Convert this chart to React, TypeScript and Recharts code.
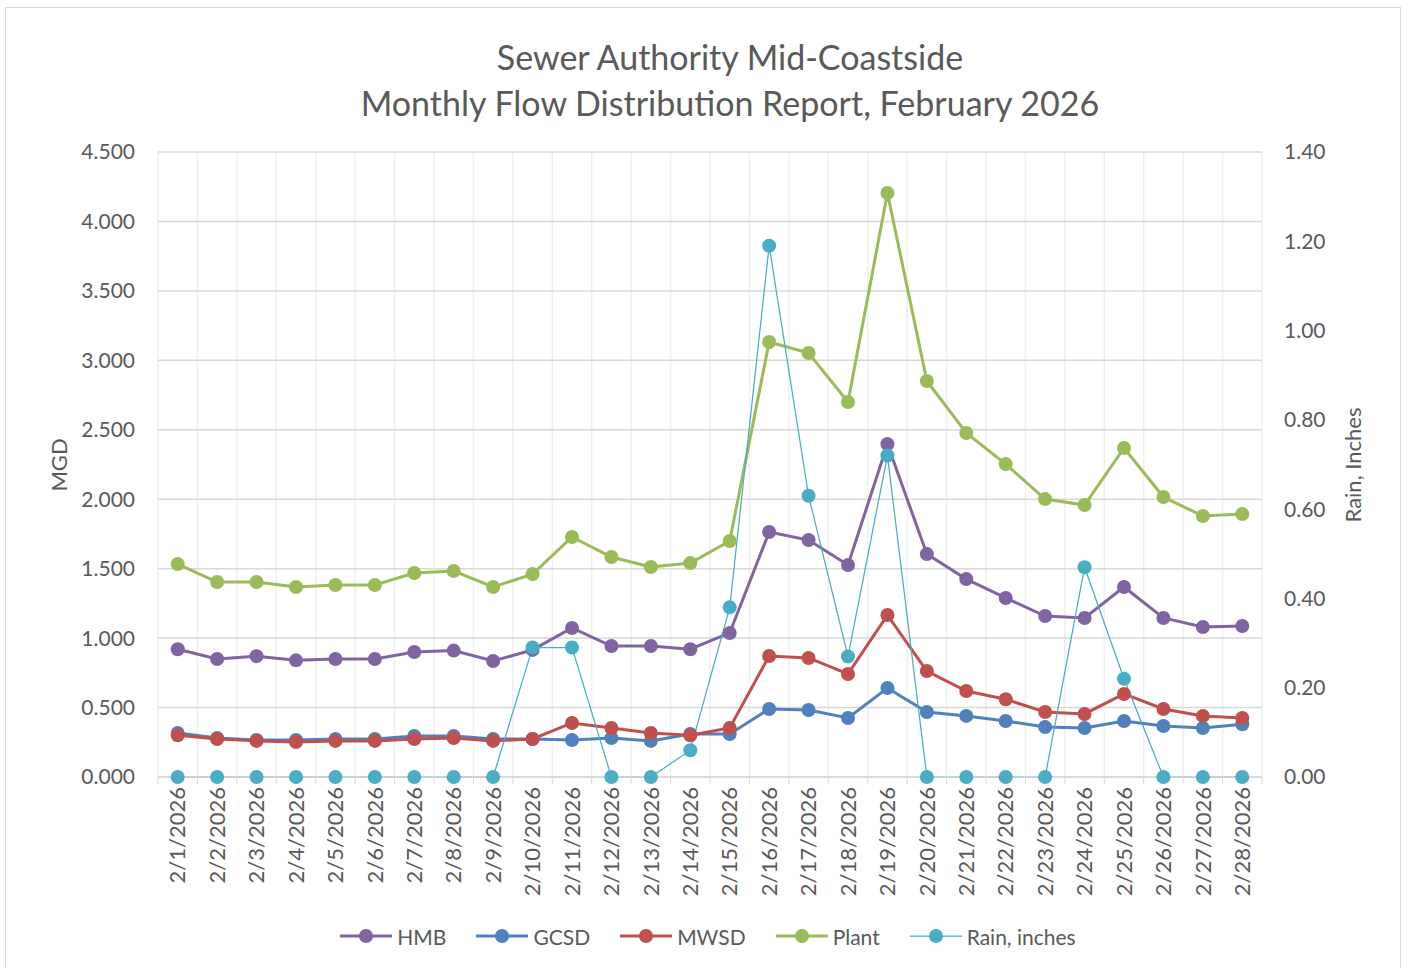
import React from "react";
import {CartesianGrid, Line, LineChart, XAxis, YAxis} from "recharts";

const dates = [
    "2/1/2026", "2/2/2026", "2/3/2026", "2/4/2026", "2/5/2026", "2/6/2026", "2/7/2026",
    "2/8/2026", "2/9/2026", "2/10/2026", "2/11/2026", "2/12/2026", "2/13/2026", "2/14/2026",
    "2/15/2026", "2/16/2026", "2/17/2026", "2/18/2026", "2/19/2026", "2/20/2026", "2/21/2026",
    "2/22/2026", "2/23/2026", "2/24/2026", "2/25/2026", "2/26/2026", "2/27/2026", "2/28/2026",
];

const hmb = [0.92, 0.85, 0.87, 0.84, 0.85, 0.85, 0.90, 0.91, 0.835, 0.915, 1.073, 0.943, 0.943, 0.92,
    1.037, 1.764, 1.706, 1.526, 2.397, 1.605, 1.425, 1.289, 1.159, 1.145, 1.368, 1.145, 1.08, 1.087];
const gcsd = [0.317, 0.28, 0.266, 0.266, 0.274, 0.274, 0.295, 0.295, 0.274, 0.274, 0.266, 0.28, 0.26, 0.31,
    0.31, 0.49, 0.482, 0.425, 0.641, 0.468, 0.44, 0.403, 0.36, 0.353, 0.403, 0.367, 0.353, 0.38];
const mwsd = [0.30, 0.274, 0.26, 0.252, 0.26, 0.26, 0.274, 0.28, 0.26, 0.274, 0.389, 0.353, 0.317, 0.30,
    0.353, 0.871, 0.857, 0.742, 1.166, 0.763, 0.619, 0.56, 0.468, 0.454, 0.598, 0.49, 0.44, 0.425];
const plant = [1.533, 1.404, 1.404, 1.368, 1.382, 1.382, 1.469, 1.483, 1.368, 1.461, 1.728, 1.584, 1.512, 1.54,
    1.699, 3.132, 3.053, 2.70, 4.205, 2.851, 2.477, 2.253, 2.001, 1.958, 2.369, 2.016, 1.879, 1.893];
const rain = [0, 0, 0, 0, 0, 0, 0, 0, 0, 0.29, 0.29, 0, 0, 0.06,
    0.38, 1.19, 0.63, 0.27, 0.72, 0, 0, 0, 0, 0.47, 0.22, 0, 0, 0];

const mgdTicks = [0, 0.5, 1, 1.5, 2, 2.5, 3, 3.5, 4, 4.5];
const rainTicks = [0, 0.2, 0.4, 0.6, 0.8, 1.0, 1.2, 1.4];

const series = [
    {key: "hmb", name: "HMB", color: "#8064a2", width: 3, axis: "mgd"},
    {key: "gcsd", name: "GCSD", color: "#4f81bd", width: 3, axis: "mgd"},
    {key: "mwsd", name: "MWSD", color: "#c0504d", width: 3, axis: "mgd"},
    {key: "plant", name: "Plant", color: "#9bbb59", width: 3, axis: "mgd"},
    {key: "rain", name: "Rain, inches", color: "#4bacc6", width: 1.25, axis: "rain"},
];

const data = dates.map((d, i) => ({
    date: d, hmb: hmb[i], gcsd: gcsd[i], mwsd: mwsd[i], plant: plant[i], rain: rain[i],
}));

const FONT = "Lato, 'Open Sans', sans-serif";
const TEXT = "#595959";
const BAND = (1262 - 158) / dates.length;

const DateTick = (props: any) => {
    const {x, y, payload, index} = props;
    const i = typeof index === "number" ? index : dates.indexOf(payload.value);
    const half = BAND / 2;
    return (
        <g>
            <line x1={x - half} x2={x - half} y1={y} y2={y + 7} stroke="#d9d9d9" />
            {i === dates.length - 1 && <line x1={x + half} x2={x + half} y1={y} y2={y + 7} stroke="#d9d9d9" />}
            <text x={x} y={y + 10} transform={`rotate(-90, ${x}, ${y + 10})`} textAnchor="end" dy="0.35em"
                  fill={TEXT} fontSize={22} fontFamily={FONT}>
                {payload.value}
            </text>
        </g>
    );
};

const App = () => {
    return (
        <div style={{position: "absolute", left: 0, top: 0, width: 1408, height: 968, overflow: "hidden", background: "#fff"}}>
            <div style={{position: "absolute", left: 5, top: 7, width: 1394, height: 1000, border: "1.5px solid #d9d9d9"}} />
            <div style={{position: "absolute", left: 0, width: 1460, top: 34, textAlign: "center", fontFamily: FONT,
                fontSize: 34, lineHeight: "46px", color: TEXT}}>
                Sewer Authority Mid-Coastside<br />Monthly Flow Distribution Report, February 2026
            </div>
            <div style={{position: "absolute", left: 58, top: 465, transform: "translate(-50%, -50%) rotate(-90deg)",
                fontFamily: FONT, fontSize: 22, color: TEXT, whiteSpace: "nowrap"}}>MGD</div>
            <div style={{position: "absolute", left: 1352, top: 465, transform: "translate(-50%, -50%) rotate(-90deg)",
                fontFamily: FONT, fontSize: 22, color: TEXT, whiteSpace: "nowrap"}}>Rain, Inches</div>
            <div style={{position: "absolute", left: 0, top: 0}}>
                <LineChart width={1408} height={968} data={data} margin={{top: 152, right: 0, bottom: 0, left: 0}}>
                    <CartesianGrid yAxisId="mgd" horizontal={false} stroke="#efefef" strokeWidth={1.5}
                                   verticalCoordinatesGenerator={({offset}: any) =>
                                       dates.concat([""]).map((_, i) => offset.left + i * offset.width / dates.length)} />
                    <CartesianGrid yAxisId="mgd" vertical={false} stroke="#d9d9d9" strokeWidth={1.5} />
                    <XAxis dataKey="date" scale="band" height={191} interval={0} tickLine={false}
                           tickSize={0} tickMargin={0} stroke="#d9d9d9" strokeWidth={1.5} tick={<DateTick />} />
                    <YAxis yAxisId="mgd" orientation="left" width={158} domain={[0, 4.5]} ticks={mgdTicks}
                           tickFormatter={(v: number) => v.toFixed(3)} axisLine={false} tickLine={false}
                           tickSize={0} tickMargin={23} tick={{fill: TEXT, fontSize: 21, fontFamily: FONT}} />
                    <YAxis yAxisId="rain" orientation="right" width={146} domain={[0, 1.4]} ticks={rainTicks}
                           tickFormatter={(v: number) => v.toFixed(2)} axisLine={false} tickLine={false}
                           tickSize={0} tickMargin={22} tick={{fill: TEXT, fontSize: 21, fontFamily: FONT}} />
                    {series.map(s => (
                        <Line key={s.key} yAxisId={s.axis} dataKey={s.key} name={s.name} type="linear"
                              stroke={s.color} strokeWidth={s.width}
                              dot={{r: 7, fill: s.color, stroke: s.color, strokeWidth: 0}}
                              activeDot={false} isAnimationActive={false} />
                    ))}
                </LineChart>
            </div>
            <div style={{position: "absolute", left: 0, width: 1416, top: 922, display: "flex", justifyContent: "center",
                fontFamily: FONT, fontSize: 21, color: TEXT}}>
                {series.map(s => (
                    <div key={s.key} style={{display: "flex", alignItems: "center", margin: "0 15px", height: 28}}>
                        <svg width={52} height={16} style={{marginRight: 5}}>
                            <line x1={0} x2={52} y1={8} y2={8} stroke={s.color} strokeWidth={s.width} />
                            <circle cx={26} cy={8} r={7} fill={s.color} />
                        </svg>
                        <span>{s.name}</span>
                    </div>
                ))}
            </div>
        </div>
    );
};

export default App;
